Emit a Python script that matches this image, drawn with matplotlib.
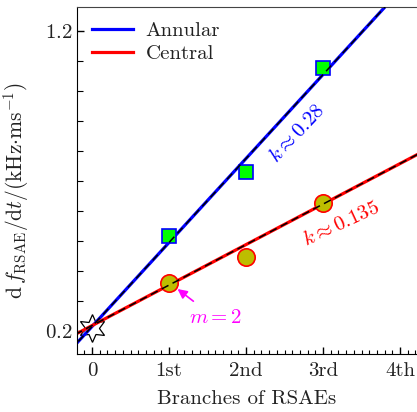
import numpy as np
import matplotlib
matplotlib.use("Agg")
import matplotlib.pyplot as plt
from matplotlib.ticker import FixedLocator, MultipleLocator

plt.rcParams['font.family'] = 'serif'
plt.rcParams['font.serif'] = ['cmr10']
plt.rcParams['mathtext.fontset'] = 'cm'
plt.rcParams['axes.formatter.use_mathtext'] = True

# data
branch_pos = [1, 2, 3]
tick_pos = [0, 1, 2, 3, 4]
tick_labels = ['0', '1st', '2nd', '3rd', '4th']
annular_vals = [0.518, 0.730, 1.078]
central_vals = [0.361, 0.448, 0.628]
origin_x = [0]
origin_y = [0.21]

# fitted lines: slope, intercept
annular_fit = (0.28, 0.215)
central_fit = (0.135, 0.218)

txt_col = '#222222'

fig = plt.figure(figsize=(4.17, 4.12), dpi=100)
ax = fig.add_axes([0.1847, 0.1408, 0.8153, 0.8422])

xx = np.array([-0.5, 4.5])

# star at origin
ax.plot(origin_x, origin_y, marker=(6, 1, 0), markersize=20, color='none',
        markerfacecolor='white', markeredgecolor='black', markeredgewidth=0.9, zorder=1)

ax.plot(xx, annular_fit[0] * xx + annular_fit[1], color='#0000ff', lw=2.3,
        label='Annular', zorder=2)
ax.plot(xx, central_fit[0] * xx + central_fit[1], color='#ff0000', lw=2.3,
        label='Central', zorder=2)

ax.plot(branch_pos, annular_vals, ls='none', marker='s', markersize=10,
        markerfacecolor='#00ff00', markeredgecolor='#0000ff', markeredgewidth=1.2, zorder=3)
ax.plot(branch_pos, central_vals, ls='none', marker='o', markersize=12.5,
        markerfacecolor='#bdbd00', markeredgecolor='#ff0000', markeredgewidth=1.2, zorder=3)

# black dashed overlay on the fit lines
for k, b in (annular_fit, central_fit):
    ax.plot(xx, k * xx + b, color='black', lw=1.1, ls=(0, (5, 3)), zorder=4)

ax.text(2.66, 0.858, r'$k\approx0.28$', color='#0000ff', fontsize=15,
        rotation=47, ha='center', va='center')
ax.text(3.24, 0.559, r'$k\approx0.135$', color='#ff0000', fontsize=15,
        rotation=25, ha='center', va='center')
ax.annotate(r'$m=2$', xy=(1.11, 0.34), xytext=(1.6, 0.243), color='#ff00ff',
            fontsize=15, ha='center', va='center',
            arrowprops=dict(arrowstyle='-|>', color='#ff00ff', lw=1.2,
                            shrinkA=6, shrinkB=0, mutation_scale=14))

ax.set_xlim(-0.195, 4.22)
ax.set_ylim(0.1233, 1.28)

ax.xaxis.set_major_locator(FixedLocator(tick_pos))
ax.set_xticklabels(tick_labels)
ax.xaxis.set_minor_locator(MultipleLocator(0.1))
ax.yaxis.set_major_locator(FixedLocator([0.2, 1.2]))
ax.yaxis.set_minor_locator(MultipleLocator(0.1))
ax.tick_params(which='both', direction='in', labelsize=15, colors='black',
               labelcolor=txt_col)
ax.tick_params(which='major', length=5, width=1)
ax.tick_params(which='minor', length=3, width=0.8)
ax.tick_params(axis='y', which='minor', length=4)
ax.tick_params(axis='x', which='major', pad=6)
ax.spines['right'].set_visible(False)
ax.spines['top'].set_color('#444444')

ax.set_xlabel('Branches of RSAEs', fontsize=15, color=txt_col, labelpad=7)
ax.set_ylabel(r'$\mathrm{d}\,f_{\mathrm{RSAE}}/\mathrm{d}t/(\mathrm{kHz{\cdot}ms^{-1}})$',
              fontsize=15.5, color=txt_col)
ax.yaxis.set_label_coords(-0.135, 0.47)

leg = ax.legend(loc='upper left', frameon=False, fontsize=15, handlelength=2.0,
                borderaxespad=0.3, labelspacing=0.2, handletextpad=0.6)
for t in leg.get_texts():
    t.set_color(txt_col)

fig.savefig('out.png', dpi=100)
